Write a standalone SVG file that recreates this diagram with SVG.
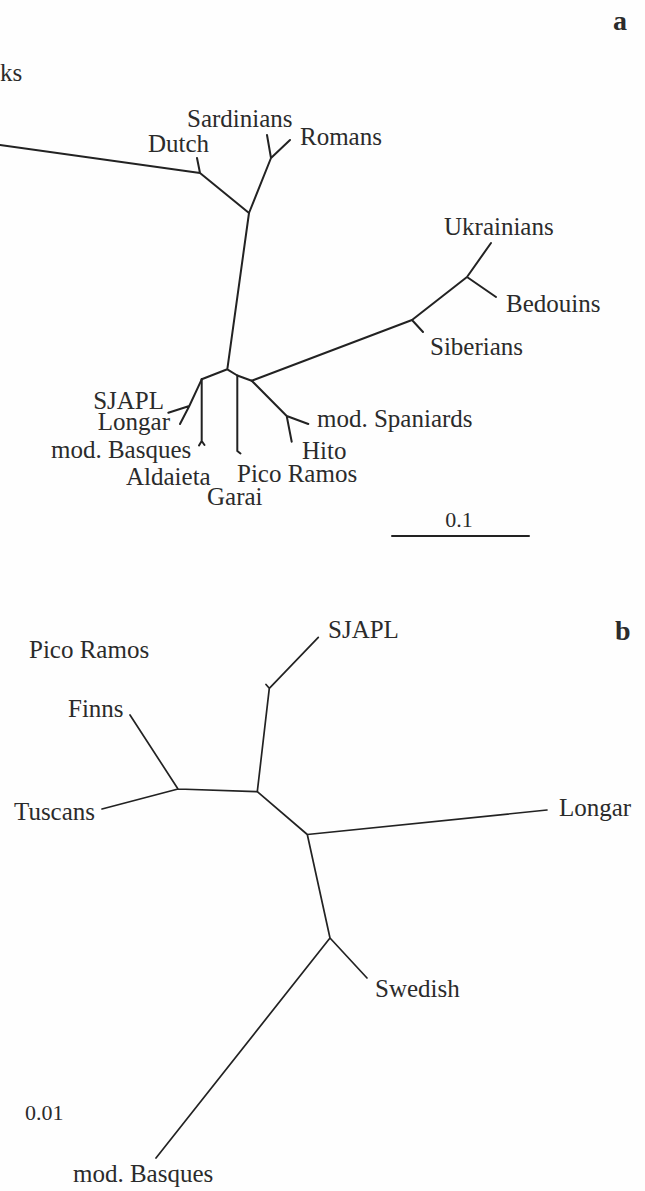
<svg xmlns="http://www.w3.org/2000/svg" width="645" height="1191" viewBox="0 0 645 1191">
<style>
.lbl{font-family:"Liberation Serif","Times New Roman",serif;font-size:25px;fill:#2b2b2b}
.num{font-family:"Liberation Serif","Times New Roman",serif;font-size:22px;fill:#2b2b2b}
.pl{font-family:"Liberation Serif","Times New Roman",serif;font-size:28px;font-weight:bold;fill:#2b2b2b}
.ea{fill:none;stroke:#222;stroke-width:2;stroke-linecap:round;stroke-linejoin:round}
.eb{fill:none;stroke:#222;stroke-width:1.7;stroke-linecap:round;stroke-linejoin:round}
</style>
<rect width="645" height="1191" fill="#fefefe"/>
<g id="connectors">
<g id="tree-a">
<path class="ea" d="M0,145 L200,173 L249,213 L271,158 M200,173 L197,158 M271,158 L267,135 M271,158 L290,140"/>
<path class="ea" d="M249,213 L227.3,369.3 L201.7,379.3 M227.3,369.3 L237.3,375.5 L251.7,380.7"/>
<path class="ea" d="M237.3,375.5 L237.3,451 L240.5,453.5"/>
<path class="ea" d="M201.7,379.3 L201.7,441 L199,445.5 M201.7,441 L204.5,445"/>
<path class="ea" d="M201.7,379.3 L189.3,406 L168.3,412.7 M189.3,406 L180,424"/>
<path class="ea" d="M251.7,380.7 L286.7,416 L308.3,424 M286.7,416 L291.7,441.7"/>
<path class="ea" d="M251.7,380.7 L412,320 L467,277 L491,243 M412,320 L423,332 M467,277 L496,297"/>
<path class="ea" d="M392,536 L529,536"/>
</g>
<g id="tree-b">
<path class="eb" d="M130,715 L178,789 L102,809 M178,789 L257.3,791.7 L269.3,688.3 L318.3,637.3 M269.3,688.3 L266,684.5"/>
<path class="eb" d="M257.3,791.7 L307.3,834.5 L547,810 M307.3,834.5 L330,938 L367,978 M330,938 L156,1158"/>
</g>
</g>
<g id="panel-a">
<text class="pl" x="613" y="30">a</text>
<g id="a-ks"><text class="lbl" x="0" y="81">ks</text></g>
<g id="a-sardinians"><text class="lbl" x="187" y="127">Sardinians</text></g>
<g id="a-dutch"><text class="lbl" x="148" y="152">Dutch</text></g>
<g id="a-romans"><text class="lbl" x="300" y="145">Romans</text></g>
<g id="a-ukrainians"><text class="lbl" x="444" y="235">Ukrainians</text></g>
<g id="a-bedouins"><text class="lbl" x="506" y="312">Bedouins</text></g>
<g id="a-siberians"><text class="lbl" x="430" y="355">Siberians</text></g>
<g id="a-sjapl"><text class="lbl" x="164" y="409" text-anchor="end">SJAPL</text></g>
<g id="a-longar"><text class="lbl" x="170" y="430" text-anchor="end">Longar</text></g>
<g id="a-modspaniards"><text class="lbl" x="317" y="427">mod. Spaniards</text></g>
<g id="a-hito"><text class="lbl" x="302" y="459">Hito</text></g>
<g id="a-modbasques"><text class="lbl" x="51" y="458">mod. Basques</text></g>
<g id="a-aldaieta"><text class="lbl" x="126" y="485">Aldaieta</text></g>
<g id="a-picoramos"><text class="lbl" x="237" y="482">Pico Ramos</text></g>
<g id="a-garai"><text class="lbl" x="207" y="505">Garai</text></g>
<g id="a-scale"><text class="num" x="459" y="527" text-anchor="middle">0.1</text></g>
</g>
<g id="panel-b">
<text class="pl" x="615" y="640">b</text>
<g id="b-sjapl"><text class="lbl" x="328" y="638">SJAPL</text></g>
<g id="b-picoramos"><text class="lbl" x="29" y="658">Pico Ramos</text></g>
<g id="b-finns"><text class="lbl" x="68" y="717">Finns</text></g>
<g id="b-tuscans"><text class="lbl" x="14" y="820">Tuscans</text></g>
<g id="b-longar"><text class="lbl" x="559" y="816">Longar</text></g>
<g id="b-swedish"><text class="lbl" x="375" y="997">Swedish</text></g>
<g id="b-scale"><text class="num" x="25" y="1120">0.01</text></g>
<g id="b-modbasques"><text class="lbl" x="73" y="1182">mod. Basques</text></g>
</g>
</svg>
